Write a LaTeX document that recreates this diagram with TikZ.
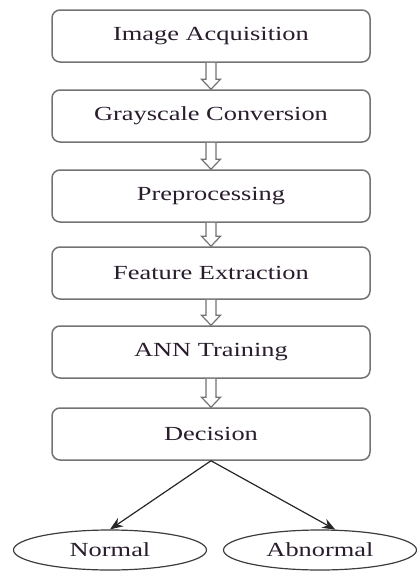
\documentclass[tikz,border=0pt]{standalone}
\usepackage{fontspec}
\newfontfamily\lblfont[FakeStretch=1.32]{Liberation Serif}
\usetikzlibrary{shapes.geometric,arrows.meta,calc}
\definecolor{boxgray}{RGB}{115,115,115}
\definecolor{txt}{RGB}{40,28,45}
\definecolor{ell}{RGB}{60,60,60}
\tikzset{
  stepbox/.style={draw=boxgray, line width=1.5pt, rounded corners=8pt,
    minimum width=318pt, minimum height=52pt, inner sep=0pt,
    font=\lblfont\fontsize{20pt}{22pt}\selectfont, text=txt},
  outcome/.style={draw=ell, line width=1.2pt, ellipse,
    minimum width=193pt, minimum height=40pt, inner sep=0pt,
    font=\lblfont\fontsize{20pt}{22pt}\selectfont, text=txt},
  hollow/.style={draw=boxgray, line width=1.2pt, fill=white, line join=miter},
  conn/.style={draw=black!85, line width=1.2pt, -{Stealth[length=13pt,width=10pt]}}
}
\newcommand{\hollowarrow}[2]{%
  \draw[hollow] ($(#1.south)+(-5,0)$) -- ($(#2.north)+(-5,-10)$) -- ($(#2.north)+(-9.5,-10)$)
    -- (#2.north) -- ($(#2.north)+(9.5,-10)$) -- ($(#2.north)+(5,-10)$)
    -- ($(#1.south)+(5,0)$);}
\begin{document}
\begin{tikzpicture}[x=1pt,y=-1pt]
\useasboundingbox (0,0) rectangle (416,576);
\node[stepbox] (acq) at (211,36) {Image Acquisition};
\node[stepbox] (gray) at (211,116) {Grayscale Conversion};
\node[stepbox] (pre) at (211,196) {Preprocessing};
\node[stepbox] (feat) at (211,273) {Feature Extraction};
\node[stepbox] (ann) at (211,352) {ANN Training};
\node[stepbox] (dec) at (211,434) {Decision};
\node[outcome] (nor) at (110,550) {Normal};
\node[outcome] (abn) at (320,550) {Abnormal};
\hollowarrow{acq}{gray}
\hollowarrow{gray}{pre}
\hollowarrow{pre}{feat}
\hollowarrow{feat}{ann}
\hollowarrow{ann}{dec}
\draw[conn] (dec.south) -- (nor.north);
\draw[conn] (dec.south) -- (abn.53);
\end{tikzpicture}
\end{document}
